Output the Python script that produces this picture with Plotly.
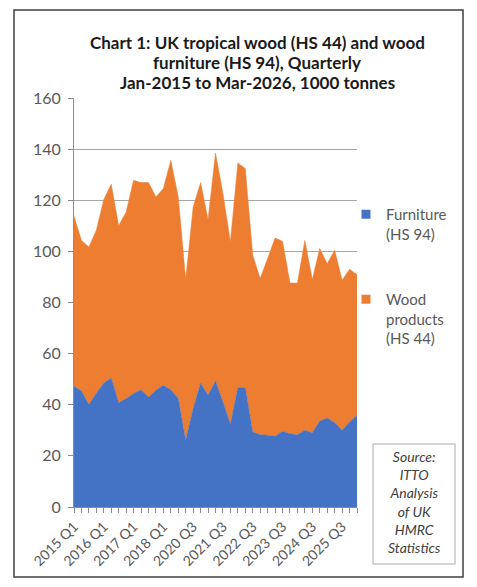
import plotly.graph_objects as go

quarters = [
    "2015 Q1", "2015 Q2", "2015 Q3", "2015 Q4",
    "2016 Q1", "2016 Q2", "2016 Q3", "2016 Q4",
    "2017 Q1", "2017 Q2", "2017 Q3", "2017 Q4",
    "2018 Q1", "2019 Q4", "2020 Q1", "2020 Q2",
    "2020 Q3", "2020 Q4", "2021 Q1", "2021 Q2",
    "2021 Q3", "2021 Q4", "2022 Q1", "2022 Q2",
    "2022 Q3", "2022 Q4", "2023 Q1", "2023 Q2",
    "2023 Q3", "2023 Q4", "2024 Q1", "2024 Q2",
    "2024 Q3", "2024 Q4", "2025 Q1", "2025 Q2",
    "2025 Q3", "2025 Q4", "2026 Q1",
]

# 1000 tonnes
furniture = [
    47.2, 45.4, 40.1, 44.6, 48.5, 50.5, 40.8, 42.4, 44.4, 45.9,
    43.0, 45.7, 47.6, 45.9, 42.4, 26.1, 38.5, 48.5, 43.7, 49.3,
    41.1, 32.4, 46.7, 46.7, 29.3, 28.3, 28.1, 27.7, 29.6, 28.7,
    28.3, 30.0, 29.0, 33.6, 34.8, 33.0, 30.0, 33.3, 35.9,
]
wood_products = [
    66.5, 58.9, 61.6, 63.7, 71.8, 75.8, 69.2, 73.0, 83.4, 81.0,
    83.9, 75.6, 77.0, 89.7, 78.9, 62.9, 78.9, 78.4, 68.7, 89.2,
    81.5, 71.3, 87.9, 85.7, 69.2, 61.1, 69.1, 77.5, 74.4, 58.9,
    59.3, 74.3, 60.0, 67.5, 60.4, 67.4, 58.7, 59.7, 55.0,
]

# only every 4th category gets a label
shown_labels = ["2015 Q1", "2016 Q1", "2017 Q1", "2018 Q1", "2020 Q3",
                "2021 Q3", "2022 Q3", "2023 Q3", "2024 Q3", "2025 Q3"]
tick_text = [q if q in shown_labels else "" for q in quarters]

title_lines = [
    "Chart 1: UK tropical wood (HS 44) and wood",
    "furniture (HS 94), Quarterly",
    "Jan-2015 to Mar-2026, 1000 tonnes",
]

FONT = "Lato"
GREY_TXT = "#595959"
BLUE = "#4472C4"
ORANGE = "#ED7D31"

# page body has an 8px margin, so the figure is drawn 8px in
W, H = 469, 579
L, T = 66, 90
PW, PH = 283, 409

def px_x(px):
    return (px - 8 - L) / PW

def px_y(py):
    return (T + PH - (py - 8)) / PH

fig = go.Figure()
fig.add_trace(go.Scatter(
    x=quarters, y=furniture, name="Furniture", showlegend=False,
    stackgroup="one", mode="lines",
    line=dict(width=0.5, color=BLUE), fillcolor=BLUE,
))
fig.add_trace(go.Scatter(
    x=quarters, y=wood_products, name="Wood products", showlegend=False,
    stackgroup="one", mode="lines",
    line=dict(width=0.5, color=ORANGE), fillcolor=ORANGE,
))
# legend entries with small square keys, like the Excel legend
fig.add_trace(go.Scatter(
    x=[None], y=[None], mode="markers", name="Furniture<br>(HS 94)",
    marker=dict(symbol="square", size=9, color=BLUE), legendgroup="a",
))
fig.add_trace(go.Scatter(
    x=[None], y=[None], mode="markers", name="Wood<br>products<br>(HS 44)",
    marker=dict(symbol="square", size=9, color=ORANGE), legendgroup="b",
))

fig.update_layout(
    width=W, height=H,
    margin=dict(l=L, r=W - L - PW, t=T, b=H - T - PH),
    paper_bgcolor="white", plot_bgcolor="white",
    font=dict(family=FONT, color=GREY_TXT),
    legend=dict(
        x=px_x(346), y=px_y(198), xanchor="left", yanchor="top",
        font=dict(family=FONT, size=15, color=GREY_TXT),
        traceorder="grouped", tracegroupgap=43, valign="top",
        bgcolor="rgba(0,0,0,0)",
    ),
    showlegend=True,
)

for line, py in zip(title_lines, [42, 62, 82]):
    fig.add_annotation(
        xref="paper", yref="paper", x=px_x(257), y=px_y(py),
        text="<b>" + line + "</b>", showarrow=False,
        xanchor="center", yanchor="middle",
        font=dict(family=FONT, size=17, color="#1a1a1a"),
    )

fig.update_xaxes(
    type="category", range=[0, len(quarters) - 1],
    tickmode="array", tickvals=quarters, ticktext=tick_text,
    tickangle=-45, ticks="outside", ticklen=5, tickcolor="#8c8c8c",
    showline=True, linecolor="#8c8c8c", showgrid=False,
    tickfont=dict(family=FONT, size=14, color=GREY_TXT),
)
fig.update_yaxes(
    range=[0, 160], dtick=20, ticks="outside", ticklen=5,
    tickcolor="#8c8c8c", showline=True, linecolor="#8c8c8c",
    gridcolor="#a6a6a6", gridwidth=1, zeroline=False,
    ticklabelstandoff=4,
    tickfont=dict(family=FONT, size=16, color=GREY_TXT),
)

# outer chart border
fig.add_shape(type="rect", xref="paper", yref="paper",
              x0=px_x(14), x1=px_x(463), y0=px_y(577), y1=px_y(10),
              line=dict(color="#404040", width=1.5))
# source box
fig.add_shape(type="rect", xref="paper", yref="paper",
              x0=px_x(373), x1=px_x(455), y0=px_y(564), y1=px_y(444),
              line=dict(color="#c8c8c8", width=1.5))
fig.add_annotation(
    xref="paper", yref="paper", x=px_x(414), y=px_y(502),
    text="<i>Source:<br>ITTO<br>Analysis<br>of UK<br>HMRC<br>Statistics</i>",
    showarrow=False, align="center", xanchor="center", yanchor="middle",
    font=dict(family=FONT, size=14, color="#404040"),
)

fig.write_html("out.html")
